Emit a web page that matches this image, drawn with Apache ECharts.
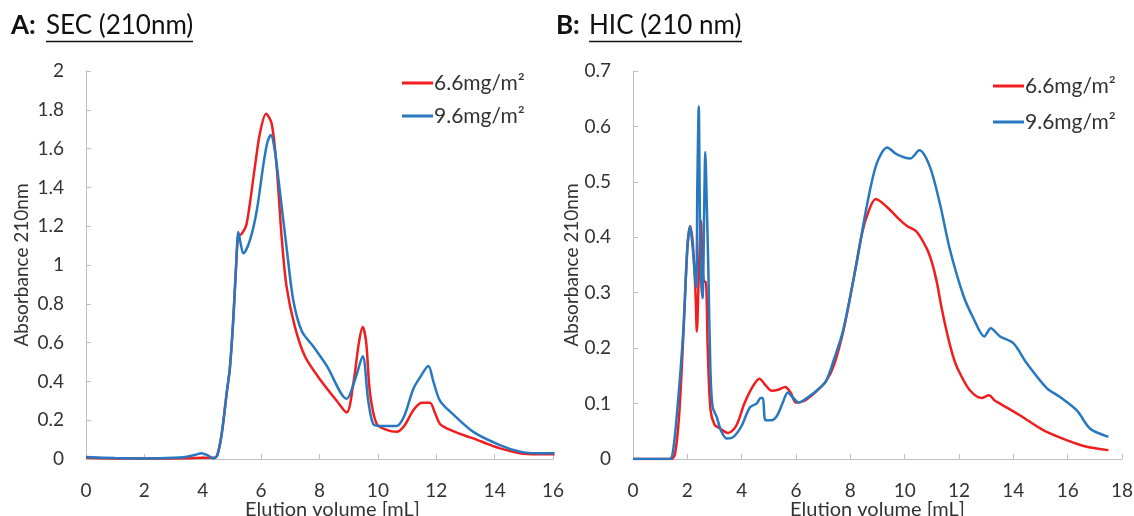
<!DOCTYPE html>
<html>
<head>
<meta charset="utf-8">
<script src="https://cdn.jsdelivr.net/npm/echarts@6/dist/echarts.min.js"></script>
<style>
html,body{margin:0;padding:0;background:#fff;}
#c{width:1134px;height:516px;}
</style>
</head>
<body>
<div id="c"></div>
<script>
// ---------- DATA ----------
const seriesNames = ['6.6mg/m²', '9.6mg/m²'];
const secXTicks = [0, 16, 2];   // min, max, interval
const secYTicks = [0, 2, 0.2];
const hicXTicks = [0, 18, 2];
const hicYTicks = [0, 0.7, 0.1];

// SEC (210nm), elution volume [mL] vs absorbance
const secRed = [
  [0,0.006],[1,0.003],[2,0.002],[3,0.003],[3.5,0.004],[4,0.006],[4.4,0.006],[4.5,0.02],
  [4.65,0.13],[4.82,0.34],[4.93,0.47],[5.05,0.73],[5.14,0.99],[5.22,1.15],[5.33,1.16],
  [5.5,1.21],[5.79,1.51],[5.96,1.68],[6.17,1.78],[6.36,1.73],[6.53,1.51],[6.7,1.15],
  [6.87,0.89],[7.16,0.68],[7.5,0.53],[8.02,0.41],[8.59,0.30],[8.93,0.24],[9.16,0.39],
  [9.35,0.6],[9.48,0.68],[9.6,0.6],[9.73,0.34],[9.96,0.18],[10.3,0.15],[10.64,0.14],
  [10.9,0.17],[11.21,0.25],[11.5,0.29],[11.78,0.29],[11.95,0.24],[12.13,0.18],
  [12.4,0.155],[12.64,0.14],[13.0,0.12],[13.38,0.10],[13.8,0.075],[14.18,0.055],
  [14.87,0.03],[15.5,0.025],[16.05,0.025]
];
const secBlue = [
  [0,0.01],[1,0.005],[2,0.003],[3,0.006],[3.45,0.012],[3.75,0.022],[3.96,0.03],[4.15,0.02],
  [4.37,0.003],[4.5,0.02],[4.65,0.13],[4.82,0.34],[4.93,0.47],[5.05,0.73],[5.14,0.99],
  [5.22,1.17],[5.3,1.11],[5.39,1.06],[5.62,1.13],[5.85,1.28],[6.07,1.51],[6.21,1.63],
  [6.33,1.67],[6.47,1.59],[6.65,1.37],[6.88,1.08],[7.1,0.82],[7.39,0.66],[7.79,0.58],
  [8.25,0.48],[8.93,0.31],[9.22,0.41],[9.48,0.53],[9.67,0.30],[9.84,0.18],[10.07,0.17],
  [10.64,0.17],[10.9,0.22],[11.21,0.36],[11.44,0.42],[11.73,0.48],[11.9,0.4],[12.13,0.30],
  [12.58,0.23],[13.27,0.14],[14.18,0.072],[14.87,0.038],[15.5,0.03],[16.05,0.03]
];

// HIC (210 nm)
const hicRed = [
  [0,0],[1.4,0],[1.55,0.01],[1.7,0.08],[1.85,0.22],[2.0,0.38],[2.1,0.42],[2.2,0.39],
  [2.3,0.3],[2.35,0.23],[2.42,0.33],[2.5,0.43],[2.56,0.35],[2.62,0.32],[2.68,0.32],
  [2.75,0.2],[2.85,0.09],[3.0,0.062],[3.2,0.055],[3.5,0.047],[3.8,0.06],[4.1,0.1],
  [4.4,0.13],[4.65,0.145],[4.9,0.132],[5.1,0.123],[5.35,0.125],[5.6,0.13],[5.8,0.12],
  [6.0,0.102],[6.3,0.105],[6.7,0.12],[7.1,0.14],[7.4,0.17],[7.75,0.233],[8.1,0.32],
  [8.4,0.4],[8.6,0.437],[8.94,0.469],[9.34,0.455],[9.83,0.431],[10.1,0.42],[10.44,0.41],
  [10.81,0.38],[11.0,0.355],[11.18,0.32],[11.35,0.275],[11.5,0.24],[11.67,0.205],
  [11.85,0.175],[12.03,0.155],[12.4,0.124],[12.83,0.11],[13.11,0.115],[13.3,0.106],
  [13.51,0.1],[14.24,0.079],[15.1,0.052],[15.96,0.034],[16.7,0.022],[17.5,0.016]
];
const hicBlue = [
  [0,0],[1.35,0],[1.48,0.017],[1.65,0.1],[1.85,0.23],[2.0,0.38],[2.1,0.42],[2.2,0.38],
  [2.32,0.31],[2.37,0.5],[2.42,0.636],[2.46,0.45],[2.5,0.33],[2.56,0.29],[2.62,0.45],
  [2.66,0.554],[2.72,0.45],[2.77,0.35],[2.85,0.16],[2.93,0.094],[3.08,0.076],[3.25,0.05],
  [3.45,0.037],[3.7,0.04],[4.0,0.06],[4.3,0.093],[4.55,0.1],[4.7,0.11],[4.78,0.11],
  [4.88,0.07],[5.1,0.07],[5.3,0.078],[5.5,0.1],[5.7,0.12],[5.9,0.11],[6.1,0.102],
  [6.4,0.11],[6.8,0.125],[7.1,0.14],[7.4,0.18],[7.74,0.233],[8.23,0.353],[8.6,0.455],
  [8.97,0.533],[9.36,0.562],[9.7,0.55],[10.2,0.542],[10.54,0.557],[10.93,0.527],
  [11.3,0.46],[11.67,0.377],[12.16,0.295],[12.53,0.254],[12.93,0.221],[13.17,0.236],
  [13.51,0.221],[14.0,0.209],[14.49,0.173],[15.23,0.128],[15.72,0.112],[16.33,0.088],
  [16.82,0.055],[17.37,0.042],[17.5,0.04]
];

// ---------- CHART ----------
const RED = '#f01e1e', BLUE = '#2878c0';
const FONT = 'Lato';
const axisGray = '#bfbfbf';
const labelColor = '#333';

function xAx(idx, t, padLeft){
  return {
    type:'value', gridIndex: idx, min:t[0], max:t[1], interval:t[2],
    name:'Elution volume [mL]', nameLocation:'middle', nameGap:41, nameMoveOverlap:false,
    nameTextStyle:{fontFamily:FONT, fontSize:20, color:labelColor, padding:[0,0,0,padLeft]},
    axisLine:{lineStyle:{color:axisGray, width:1}},
    axisTick:{inside:true, length:5, lineStyle:{color:axisGray}},
    axisLabel:{fontFamily:FONT, fontSize:19, color:labelColor, margin:22},
    splitLine:{show:false}
  };
}
function yAx(idx, t, gap){
  return {
    type:'value', gridIndex: idx, min:t[0], max:t[1], interval:t[2],
    name:'Absorbance 210nm', nameLocation:'middle', nameGap:gap, nameMoveOverlap:false,
    nameTextStyle:{fontFamily:FONT, fontSize:19, color:labelColor},
    axisLine:{show:true, lineStyle:{color:axisGray, width:1}},
    axisTick:{show:true, inside:true, length:5, lineStyle:{color:axisGray}},
    axisLabel:{fontFamily:FONT, fontSize:19, color:labelColor, margin:22,
      formatter: v => String(+v.toFixed(1))},
    splitLine:{show:false}
  };
}
function ser(name, data, color, xi){
  return {
    type:'line', name, data, xAxisIndex:xi, yAxisIndex:xi,
    showSymbol:false, symbol:'none', smooth:0.3,
    lineStyle:{color, width:2.5}, itemStyle:{color}, z: 2 + (color===BLUE?1:0),
    animation:false
  };
}
function legend(left, top, gap){
  return {
    data:seriesNames, left, top, orient:'vertical', icon:'rect',
    itemWidth:31, itemHeight:3, itemGap:gap,
    textStyle:{fontFamily:FONT, fontSize:21, color:labelColor, lineHeight:24, padding:[0,0,0,-4]},
    selectedMode:false
  };
}

const chart = echarts.init(document.getElementById('c'), null, {renderer:'canvas'});
chart.setOption({
  animation:false,
  backgroundColor:'#fff',
  grid:[
    {left:86, top:71, width:467, height:388, containLabel:false, outerBoundsMode:'none'},
    {left:633, top:71, width:489, height:388, containLabel:false, outerBoundsMode:'none'}
  ],
  xAxis:[xAx(0, secXTicks, 26), xAx(1, hicXTicks, 0)],
  yAxis:[yAx(0, secYTicks, 55), yAx(1, hicYTicks, 52)],
  legend:[legend(397, 66, 9), legend(988, 69, 12)],
  series:[
    ser(seriesNames[0], secRed, RED, 0),
    ser(seriesNames[1], secBlue, BLUE, 0),
    ser(seriesNames[0], hicRed, RED, 1),
    ser(seriesNames[1], hicBlue, BLUE, 1)
  ],
  graphic:[
    {type:'text', left:11, top:13, style:{text:'A:', font:'bold 26px Lato', fill:'#111'}},
    {type:'text', left:46, top:13, style:{text:'SEC (210nm)', font:'26px Lato', fill:'#111'}},
    {type:'line', shape:{x1:46, y1:41.5, x2:193, y2:41.5}, style:{stroke:'#111', lineWidth:1.5}},
    {type:'text', left:556, top:13, style:{text:'B:', font:'bold 26px Lato', fill:'#111'}},
    {type:'text', left:589, top:13, style:{text:'HIC (210 nm)', font:'26px Lato', fill:'#111'}},
    {type:'line', shape:{x1:589, y1:41.5, x2:742, y2:41.5}, style:{stroke:'#111', lineWidth:1.5}}
  ]
});
</script>
</body>
</html>
